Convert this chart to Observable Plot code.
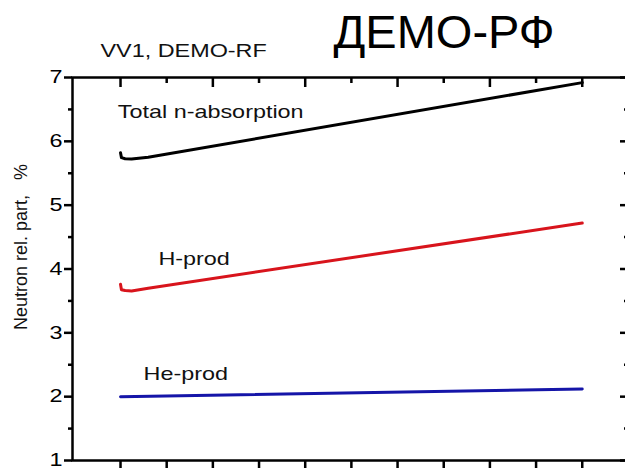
<!DOCTYPE html>
<html>
<head>
<meta charset="utf-8">
<script src="https://cdn.jsdelivr.net/npm/d3@7"></script>
<script src="https://cdn.jsdelivr.net/npm/@observablehq/plot@0.6"></script>
<style>
  html, body { margin: 0; padding: 0; background: #fff; overflow: hidden; }
  #chart { width: 625px; height: 469px; overflow: hidden; }
  #chart svg { display: block; max-width: none !important; }
</style>
</head>
<body>
<div id="chart"></div>
<script>
// Tick positions
const xMajor = [0, 1, 2, 3, 4, 5];
const xMinor = [0.5, 1.5, 2.5, 3.5, 4.5];
const yMajor = [1, 2, 3, 4, 5, 6, 7];
const yMinor = [1.5, 2.5, 3.5, 4.5, 5.5, 6.5];

// Series (neutron relative part, %)
const xPts = [0, 0.01, 0.05, 0.12, 0.3, 5];
const totalAbs = [5.82, 5.745, 5.728, 5.722, 5.752, 6.92];
const hProd = [3.76, 3.675, 3.662, 3.656, 3.70, 4.72];
const heX = [0, 5];
const heProd = [2.0, 2.12];

const toRows = (xs, ys) => xs.map((x, i) => ({x, y: ys[i]}));

const W = 640, H = 469;
const mL = 72, mR = 13, mT = 77, mB = 9;
const font = "'Liberation Sans', Arial, sans-serif";
const axisW = 2.5;
const wide = 1.3; // horizontal stretch of the chart lettering
const bigTitle = "ДЕМО-РФ";

const chart = Plot.plot({
  width: W,
  height: H,
  marginLeft: mL,
  marginRight: mR,
  marginTop: mT,
  marginBottom: mB,
  style: {fontFamily: font, background: "#fff", color: "#000", maxWidth: "none"},
  x: {domain: [-0.52, 5.49]},
  y: {domain: [1, 7]},
  marks: [
    // left axis, outward ticks
    Plot.axisY({ticks: yMajor, tickSize: 8, tickPadding: 2, fontSize: 18, strokeWidth: axisW, label: null, tickFormat: d => String(d)}),
    Plot.axisY({ticks: yMinor, tickSize: 4, text: null, strokeWidth: axisW, label: null}),
    // bottom axis, outward ticks
    Plot.axisX({ticks: xMajor, tickSize: 8, text: null, strokeWidth: axisW, label: null}),
    Plot.axisX({ticks: xMinor, tickSize: 8, text: null, strokeWidth: axisW, label: null}),
    // top mirror, inward ticks
    Plot.axisX({anchor: "top", ticks: xMajor, tickSize: 9, dy: 9, text: null, strokeWidth: axisW, label: null}),
    Plot.axisX({anchor: "top", ticks: xMinor, tickSize: 5, dy: 5, text: null, strokeWidth: axisW, label: null}),
    // right mirror, inward ticks
    Plot.axisY({anchor: "right", ticks: yMajor, tickSize: 8, dx: -8, text: null, strokeWidth: axisW, label: null}),
    Plot.axisY({anchor: "right", ticks: yMinor, tickSize: 4, dx: -4, text: null, strokeWidth: axisW, label: null}),
    Plot.frame({stroke: "#000", strokeWidth: axisW}),

    // series
    Plot.line(toRows(xPts, totalAbs), {x: "x", y: "y", stroke: "#000", strokeWidth: 3, strokeLinejoin: "round"}),
    Plot.line(toRows(xPts, hProd), {x: "x", y: "y", stroke: "#d8141c", strokeWidth: 3, strokeLinejoin: "round"}),
    Plot.line(toRows(heX, heProd), {x: "x", y: "y", stroke: "#1515a8", strokeWidth: 3}),

    // series labels
    Plot.text(["Total n-absorption"], {x: -0.03, y: 6.45, text: d => d, textAnchor: "start", fontSize: 18, fill: "#111"}),
    Plot.text(["H-prod"], {x: 0.41, y: 4.146, text: d => d, textAnchor: "start", fontSize: 18, fill: "#111"}),
    Plot.text(["He-prod"], {x: 0.25, y: 2.344, text: d => d, textAnchor: "start", fontSize: 18, fill: "#111"}),

    // y axis title
    Plot.text(["Neutron rel. part,   %"], {frameAnchor: "left", text: d => d, rotate: -90, textAnchor: "middle", dx: -51, dy: -22, fontSize: 18, fill: "#111", style: "white-space: pre"}),

    // headings
    Plot.text(["VV1, DEMO-RF"], {frameAnchor: "top-left", text: d => d, textAnchor: "start", lineAnchor: "middle", dx: 28, dy: -26, fontSize: 18, fill: "#111"}),
    Plot.text([bigTitle], {frameAnchor: "top-left", text: d => d, textAnchor: "start", lineAnchor: "middle", dx: 261, dy: -45, fontSize: 47, fill: "#000"})
  ]
});

// Widen the chart lettering about each text's own anchor point
// (the rotated axis title and the big heading keep their normal width)
d3.select(chart)
  .selectAll("text")
  .each(function () {
    const t = d3.select(this);
    const tr = t.attr("transform") || "";
    if (tr.includes("rotate") || t.text() === bigTitle) return;
    if (tr) {
      t.attr("transform", `${tr} scale(${wide},1)`);
    } else {
      const x = +t.attr("x") || 0, y = +t.attr("y") || 0;
      t.attr("transform", `translate(${x},${y}) scale(${wide},1) translate(${-x},${-y})`);
    }
  });

document.getElementById("chart").append(chart);
</script>
</body>
</html>
